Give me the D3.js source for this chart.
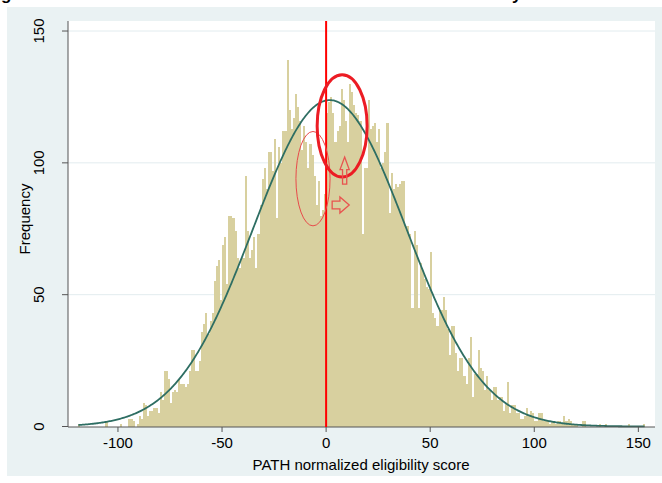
<!DOCTYPE html>
<html>
<head>
<meta charset="utf-8">
<script src="https://cdn.jsdelivr.net/npm/d3@7"></script>
<style>
body{margin:0;background:#fff;}
svg{display:block;font-family:"Liberation Sans",Arial,sans-serif;}
</style>
</head>
<body>
<div id="chart"></div>
<script>
// histogram bins: first left edge + width, counts
var binStart = -119;
var binWidth = 1;
var counts = [
  1, 0, 0, 0, 0, 0, 0, 0, 0, 0, 0, 0, 0, 2, 0, 0, 0, 0, 0, 0,
  1, 0, 0, 0, 3, 3, 2, 0, 1, 4, 3, 9, 8, 4, 6, 6, 7, 7, 5,
  13, 10, 21, 21, 18, 9, 13, 14, 13, 18, 16, 16, 15, 16, 21, 29, 29, 21, 21, 25,
  36, 39, 43, 35, 40, 43, 55, 61, 63, 48, 69, 72, 54, 80, 80, 79, 74, 64, 60, 64,
  64, 95, 74, 64, 67, 72, 60, 73, 84, 94, 98, 90, 104, 104, 97, 109, 79, 106, 100, 112, 112, 139,
  120, 113, 117, 126, 121, 116, 105, 114, 108, 98, 107, 103, 95, 84, 93, 80, 82, 88,
  119, 123, 125, 119, 108, 112, 114, 128, 124, 116, 108, 130, 127, 122, 119,
  118, 116, 73, 98, 98, 124, 113, 114, 115, 108, 113, 98, 100, 104, 115, 81, 96, 90, 92, 91,
  92, 93, 93, 76, 76, 73, 45, 74, 69, 45, 62, 59, 56, 53, 52, 66, 43, 41, 38, 44,
  44, 49, 44, 37, 27, 38,
  38, 28, 21, 26, 26, 19, 16, 26, 34, 11, 20, 20, 29, 22, 21, 14, 19, 14, 10, 15,
  15, 10, 11, 11, 6, 9, 17, 5, 8, 8, 5, 5, 3, 3, 4, 7, 4, 6, 5, 2,
  2, 5, 5, 2, 2, 2, 1, 2, 2, 1, 2, 2, 1, 4, 2, 3, 2, 1, 1, 1,
  0, 0, 2, 2, 0, 0, 0, 0, 0, 0, 1, 0, 0, 1, 0, 0, 0, 0, 0, 0,
  0, 0, 0, 0, 1, 0, 0, 0, 0, 0, 0, 1
];
var xTicks = [-100, -50, 0, 50, 100, 150];
var yTicks = [0, 50, 100, 150];
var xTitle = 'PATH normalized eligibility score';
var yTitle = 'Frequency';
var titleText = 'Figure 3. Distribution of the normalized score around the cutoff by';
var cutoff = 0;
// hand drawn marks, in data units
var bigEllipse = {cx: 7.7, cy: 114, rx: 12, ry: 19.4};
var smallEllipse = {cx: -6.3, cy: 94, rx: 8.2, ry: 17.9};
var upArrow = {x: 8.9, top: 102.2, bottom: 91.9};
var rightArrow = {y: 84, left: 2.9, right: 11.1};

var W = 662, H = 483;
var svg = d3.select('#chart').append('svg').attr('width', W).attr('height', H);

// graph region + plot region
svg.append('rect').attr('x', 7).attr('y', 7).attr('width', W - 7).attr('height', 469).attr('fill', '#eaf2f3');
svg.append('rect').attr('x', 68).attr('y', 21).attr('width', 587).attr('height', 406).attr('fill', '#fff');

svg.append('text').attr('x', -14).attr('y', 0).attr('font-size', 17).attr('font-weight', 'bold')
  .attr('fill', '#000').text(titleText);

var x = d3.scaleLinear().domain([-124, 158]).range([68, 655]);
var y = d3.scaleLinear().domain([0, 153.8]).range([426.5, 21]);

// gridlines
svg.append('g').selectAll('line').data(yTicks.filter(function(d) { return d > 0; })).enter().append('line')
  .attr('x1', 68).attr('x2', 655).attr('y1', function(d) { return y(d); }).attr('y2', function(d) { return y(d); })
  .attr('stroke', '#e3ecef').attr('stroke-width', 1);

var bins = counts.map(function(c, i) {
  return {x0: binStart + i * binWidth, x1: binStart + (i + 1) * binWidth, n: c};
});

svg.append('g').attr('shape-rendering', 'crispEdges').selectAll('rect').data(bins).enter().append('rect')
  .attr('x', function(d) { return x(d.x0); })
  .attr('width', function(d) { return x(d.x1) - x(d.x0); })
  .attr('y', function(d) { return y(d.n); })
  .attr('height', function(d) { return y(0) - y(d.n); })
  .attr('fill', '#d8d09f');

// normal density from the histogram's own mean / sd
var N = d3.sum(counts);
var mean = d3.sum(bins, function(d) { return d.n * (d.x0 + d.x1) / 2; }) / N;
var sd = Math.sqrt(d3.sum(bins, function(d) { var m = (d.x0 + d.x1) / 2 - mean; return d.n * m * m; }) / (N - 1));
var lo = binStart, hi = binStart + counts.length * binWidth;
var pts = d3.range(lo, hi + 0.01, 0.5).map(function(v) {
  var z = (v - mean) / sd;
  return [v, N * binWidth / (sd * Math.sqrt(2 * Math.PI)) * Math.exp(-z * z / 2)];
});
svg.append('path').datum(pts)
  .attr('d', d3.line().x(function(d) { return x(d[0]); }).y(function(d) { return y(d[1]); }))
  .attr('fill', 'none').attr('stroke', '#2e6e63').attr('stroke-width', 1.8);

// axes
var ax = svg.append('g').attr('stroke', '#555').attr('stroke-width', 1);
ax.append('line').attr('x1', 68).attr('x2', 68).attr('y1', 21).attr('y2', 427);
ax.append('line').attr('x1', 68).attr('x2', 655).attr('y1', 427).attr('y2', 427);
ax.selectAll('.yt').data(yTicks).enter().append('line')
  .attr('x1', 62).attr('x2', 68).attr('y1', function(d) { return y(d); }).attr('y2', function(d) { return y(d); });
ax.selectAll('.xt').data(xTicks).enter().append('line')
  .attr('x1', function(d) { return x(d); }).attr('x2', function(d) { return x(d); }).attr('y1', 427).attr('y2', 432);

svg.selectAll('.ylab').data(yTicks).enter().append('text')
  .attr('transform', function(d) { return 'translate(44,' + y(d) + ')rotate(-90)'; })
  .attr('text-anchor', 'middle').attr('font-size', 15).attr('fill', '#000').text(function(d) { return d; });
svg.selectAll('.xlab').data(xTicks).enter().append('text')
  .attr('x', function(d) { return x(d); }).attr('y', 448)
  .attr('text-anchor', 'middle').attr('font-size', 15).attr('fill', '#000').text(function(d) { return d; });
svg.append('text').attr('x', 361).attr('y', 470).attr('text-anchor', 'middle')
  .attr('font-size', 15).attr('fill', '#000').text(xTitle);
svg.append('text').attr('transform', 'translate(30,219)rotate(-90)').attr('text-anchor', 'middle')
  .attr('font-size', 15).attr('fill', '#000').text(yTitle);

// red cutoff line + annotations
svg.append('line').attr('x1', x(cutoff)).attr('x2', x(cutoff)).attr('y1', 21).attr('y2', 427)
  .attr('stroke', '#ff0000').attr('stroke-width', 2);

function ellipse(e, w, col) {
  svg.append('ellipse').attr('cx', x(e.cx)).attr('cy', y(e.cy))
    .attr('rx', x(e.cx + e.rx) - x(e.cx)).attr('ry', y(e.cy) - y(e.cy + e.ry))
    .attr('fill', 'none').attr('stroke', col).attr('stroke-width', w);
}
ellipse(smallEllipse, 1, '#e84a4a');
ellipse(bigEllipse, 3, '#ec1c24');

// up arrow
var ux = x(upArrow.x), ut = y(upArrow.top), ub = y(upArrow.bottom);
var uh = ut + 12.5;
svg.append('path')
  .attr('d', 'M' + ux + ',' + ut + 'L' + (ux + 4.6) + ',' + uh + 'L' + (ux + 2.1) + ',' + uh + 'L' + (ux + 2.1) + ',' + ub +
    'L' + (ux - 2.1) + ',' + ub + 'L' + (ux - 2.1) + ',' + uh + 'L' + (ux - 4.6) + ',' + uh + 'Z')
  .attr('fill', 'none').attr('stroke', '#e8534f').attr('stroke-width', 1.3);

// right arrow
var ry = y(rightArrow.y), rl = x(rightArrow.left), rr = x(rightArrow.right);
var rh = rr - 9.3;
svg.append('path')
  .attr('d', 'M' + rr + ',' + ry + 'L' + rh + ',' + (ry - 8) + 'L' + rh + ',' + (ry - 3.9) + 'L' + rl + ',' + (ry - 3.9) +
    'L' + rl + ',' + (ry + 3.9) + 'L' + rh + ',' + (ry + 3.9) + 'L' + rh + ',' + (ry + 8) + 'Z')
  .attr('fill', 'none').attr('stroke', '#e8534f').attr('stroke-width', 1.3);
</script>
</body>
</html>
